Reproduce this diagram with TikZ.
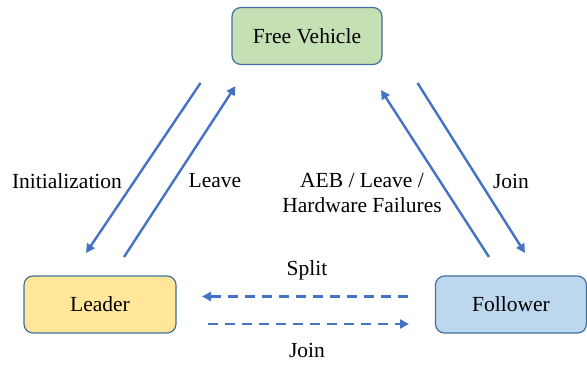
\documentclass[tikz,border=0pt]{standalone}
\usepackage{fontspec}
\setmainfont{Liberation Serif}
\newfontfamily\lserif{Liberation Serif}
\usetikzlibrary{arrows.meta}
\definecolor{arrowblue}{HTML}{4472C4}
\definecolor{boxborder}{HTML}{41719C}
\definecolor{greenfill}{HTML}{C5E0B4}
\definecolor{yellowfill}{HTML}{FFE699}
\definecolor{bluefill}{HTML}{BDD7EE}
\tikzset{
  state/.style={draw=boxborder, line width=1.2pt, rounded corners=9pt, minimum width=150pt, minimum height=57pt, font=\lserif\fontsize{21.5}{25}\selectfont, inner sep=0pt},
  lbl/.style={font=\lserif\fontsize{21.5}{25}\selectfont, inner sep=0pt, align=center},
  trans/.style={draw=arrowblue, line width=2.4pt, -{Triangle[length=9pt,width=9pt]}},
  dtrans/.style={trans, dash pattern=on 10pt off 7pt}
}
\begin{document}
\begin{tikzpicture}[x=1pt,y=-1pt]
\useasboundingbox (0,0) rectangle (587,365);
\node[state, fill=greenfill] (free) at (307,36) {Free Vehicle};
\node[state, fill=yellowfill, minimum width=152pt] (leader) at (100,304.5) {Leader};
\node[state, fill=bluefill, minimum width=151pt] (follower) at (511,304.5) {Follower};

\coordinate (i1) at (200.5,83);
\coordinate (i2) at (86,253);
\coordinate (l1) at (124,257);
\coordinate (l2) at (235.5,86);
\coordinate (a1) at (489,257);
\coordinate (a2) at (381,90);
\coordinate (j1) at (417.5,83);
\coordinate (j2) at (525,253);
\coordinate (s1) at (408,296.5);
\coordinate (s2) at (202,296.5);
\coordinate (k1) at (208,324);
\coordinate (k2) at (409,324);

\draw[trans] (i1) -- (i2);
\draw[trans] (l1) -- (l2);
\draw[trans] (a1) -- (a2);
\draw[trans] (j1) -- (j2);
\draw[dtrans] (s1) -- (s2);
\draw[dtrans] (k1) -- (k2);

\node[lbl] (tInit) at (67,181) {Initialization};
\node[lbl] (tLeave) at (215,181) {Leave};
\node[lbl] (tAEB) at (362,193) {AEB / Leave /\\Hardware Failures};
\node[lbl] (tJoin) at (511,181) {Join};
\node[lbl] (tSplit) at (307,270) {Split};
\node[lbl] (tJoin2) at (307,350) {Join};
\end{tikzpicture}
\end{document}
